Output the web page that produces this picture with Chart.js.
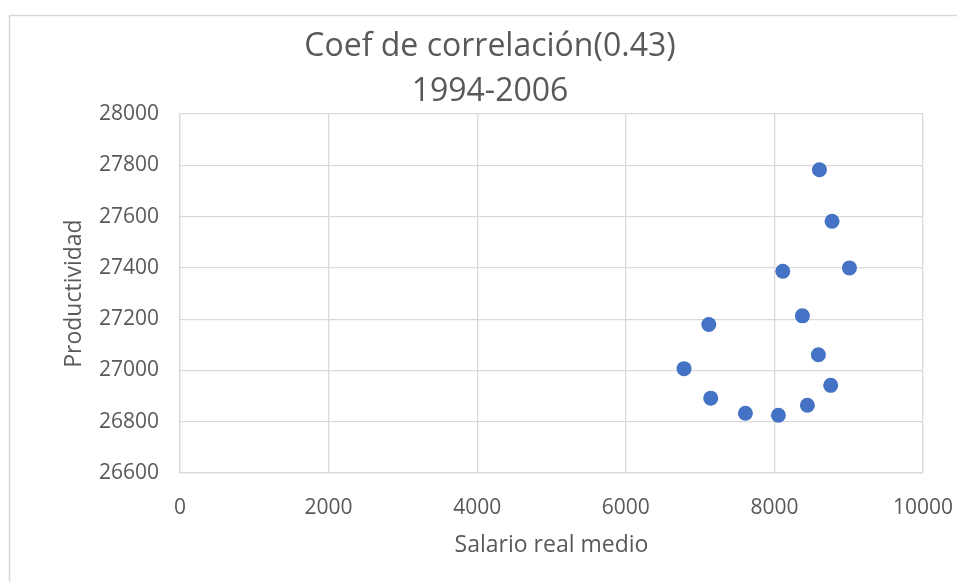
<!DOCTYPE html>
<html>
<head>
<meta charset="utf-8">
<script src="https://cdn.jsdelivr.net/npm/chart.js@4"></script>
<style>
html,body{margin:0;padding:0;background:#fff;}
#wrap{position:relative;width:957px;height:582px;}
</style>
</head>
<body>
<div id="wrap"><canvas id="c" width="957" height="582"></canvas></div>
<script>
// Data (1994-2006)
const salarioRealMedio = [8606, 8776, 9010, 8113, 8377, 7117, 8592, 6784, 8758, 7143, 8444, 7610, 8054];
const productividad   = [27783, 27582, 27400, 27387, 27213, 27179, 27061, 27007, 26942, 26892, 26864, 26833, 26825];
const titleLines = ['Coef de correlación(0.43)', '1994-2006'];
const xTitle = 'Salario real medio';
const yTitle = 'Productividad';
const xMin = 0, xMax = 10000, xStep = 2000;
const yMin = 26600, yMax = 28000, yStep = 200;

const points = salarioRealMedio.map((x, i) => ({x: x, y: productividad[i]}));

const FONT = "'Open Sans', sans-serif";
const TXT = '#595959';
const GRID = '#d9d9d9';

const frame = {
  id: 'frame',
  beforeDraw(chart) {
    const ctx = chart.ctx;
    ctx.save();
    ctx.strokeStyle = '#d9d9d9';
    ctx.lineWidth = 1.5;
    ctx.beginPath();
    ctx.moveTo(9.5, 600);
    ctx.lineTo(9.5, 15.5);
    ctx.lineTo(970, 15.5);
    ctx.stroke();
    ctx.restore();
  }
};

new Chart(document.getElementById('c'), {
  type: 'scatter',
  data: {
    datasets: [{
      data: points,
      backgroundColor: '#4472C4',
      borderColor: '#4472C4',
      borderWidth: 0,
      pointRadius: 7.5,
      pointHoverRadius: 7.5
    }]
  },
  options: {
    responsive: false,
    animation: false,
    layout: {padding: {left: 57, right: 34, top: 0, bottom: 0}},
    plugins: {
      legend: {display: false},
      tooltip: {enabled: false},
      title: {
        display: true,
        text: titleLines,
        color: TXT,
        font: {family: FONT, size: 32, weight: 'normal', lineHeight: 1.4},
        padding: {top: 24.5, bottom: 0}
      }
    },
    scales: {
      x: {
        type: 'linear',
        min: xMin, max: xMax,
        afterFit(s) { s.height = 109; s.paddingLeft = 0; s.paddingRight = 0; },
        ticks: {stepSize: xStep, color: TXT, font: {family: FONT, size: 21}, padding: 22, maxRotation: 0,
                callback: (v) => String(v)},
        grid: {color: GRID, lineWidth: 1.3, drawTicks: false},
        border: {color: GRID, width: 1.3},
        title: {display: true, text: xTitle, color: TXT, font: {family: FONT, size: 23}, padding: {top: 0, bottom: 23}}
      },
      y: {
        type: 'linear',
        min: yMin, max: yMax,
        afterFit(s) { s.width = 123; s.paddingTop = 0; s.paddingBottom = 0; },
        ticks: {stepSize: yStep, color: TXT, font: {family: FONT, size: 21}, padding: 21,
                callback: (v) => String(v)},
        grid: {color: GRID, lineWidth: 1.3, drawTicks: false},
        border: {color: GRID, width: 1.3},
        title: {display: true, text: yTitle, color: TXT, font: {family: FONT, size: 23}, padding: {top: 4, bottom: 0}}
      }
    }
  },
  plugins: [frame]
});
</script>
</body>
</html>
